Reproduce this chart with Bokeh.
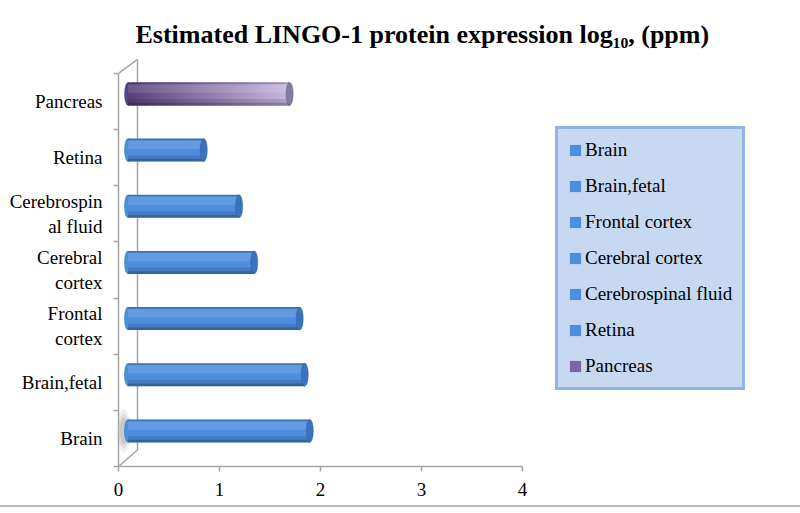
from bokeh.plotting import figure
from bokeh.models import Range1d, FixedTicker, ColumnDataSource, Legend, LegendItem
from bokeh.transform import dodge
from bokeh.embed import file_html
from bokeh.resources import INLINE

# ---------------- data ----------------
categories = ["Brain", "Brain,fetal", "Frontal cortex", "Cerebral cortex",
              "Cerebrospinal fluid", "Retina", "Pancreas"]
axis_labels = ["Brain", "Brain,fetal", "Frontal\ncortex", "Cerebral\ncortex",
               "Cerebrospin\nal fluid", "Retina", "Pancreas"]
values = [1.80, 1.75, 1.70, 1.25, 1.10, 0.75, 1.60]
x_ticks = [0, 1, 2, 3, 4]
title_text = "Estimated LINGO-1 protein expression log\u2081\u2080, (ppm)"

# ---------------- style ----------------
FONT = "Liberation Serif"
DX = 0.094      # half depth of 3D box (x units)
DY = 0.134      # half depth of 3D box (y units)
BAR_H = 0.41
CAP_W = 0.07
GRAY = "#a6a6a6"

BLUE = "#4d8ede"
BLUE_CAP = "#3b72be"
PURPLE_L = (0x58, 0x40, 0x7a)
PURPLE_R = (0xc8, 0xb8, 0xe0)

pos = [i + 0.5 for i in range(len(categories))]
base_colors = [BLUE] * 6 + ["#7d66a3"]
cap_colors = [BLUE_CAP] * 6 + ["#877aa0"]
left_colors = [BLUE] * 6 + ["#5a4180"]

src = ColumnDataSource(dict(cat=categories, pos=pos, value=values,
                            color=base_colors, cap=cap_colors, lcol=left_colors))

p = figure(frame_width=404, frame_height=410,
           min_border_left=118, min_border_top=56, min_border_right=0, min_border_bottom=39,
           x_range=Range1d(0, 4), y_range=Range1d(0, 7.3),
           output_backend="svg", toolbar_location=None,
           title=title_text)
p.styles = {"outline": "2px solid #b8b8b8"}

p.title.align = "left"
p.title.offset = 17
p.title.standoff = 15
p.title.text_font = FONT
p.title.text_font_size = "26px"
p.title.text_font_style = "bold"
p.title.text_color = "#000000"

p.xgrid.visible = False
p.ygrid.visible = False
p.outline_line_color = None
p.background_fill_color = "white"
p.border_fill_color = "white"

# 3D wall lines
p.line(x=[2 * DX, 2 * DX], y=[2.2 * DY, 7 + 1.85 * DY], line_color=GRAY, line_width=1.5)
p.line(x=[0, 2 * DX], y=[0, 2.2 * DY], line_color=GRAY, line_width=1.5)
p.line(x=[0, 2 * DX], y=[7, 7 + 1.85 * DY], line_color=GRAY, line_width=1.5)

# soft shadow at the base of the first bar
for w, h, a in [(0.14, 0.78, 0.08), (0.11, 0.62, 0.11), (0.08, 0.48, 0.15)]:
    p.ellipse(x=DX * 0.55, y=pos[0] + DY, width=w, height=h,
              fill_color="#505050", fill_alpha=a, line_color=None)

# left end caps (rounded start)
p.ellipse(x=DX, y=dodge("pos", DY), width=CAP_W, height=BAR_H, source=src,
          fill_color="lcol", line_color="#2e5f9e", line_alpha=0.5, line_width=0.8)

# cylinder bodies
base = p.hbar(y=dodge("pos", DY), left=DX, right=dodge("value", DX), height=BAR_H,
              source=src, fill_color="color", line_color=None)

# horizontal gradient for the pancreas bar
N = 40
pv = values[6]
seg_left, seg_right, seg_col, seg_y = [], [], [], []
for k in range(N):
    t = (k + 0.5) / N
    c = tuple(int(round(PURPLE_L[j] + (PURPLE_R[j] - PURPLE_L[j]) * t)) for j in range(3))
    seg_left.append(DX + pv * k / N)
    seg_right.append(min(DX + pv * (k + 1) / N + 0.02, DX + pv))
    seg_col.append("#%02x%02x%02x" % c)
    seg_y.append(pos[6] + DY)
p.hbar(y=seg_y, left=seg_left, right=seg_right, height=BAR_H, fill_color=seg_col, line_color=None)

# vertical shading strips (cylinder look)
strips = [(0.00, 0.08, "black", 0.18), (0.08, 0.45, "white", 0.12),
          (0.72, 0.88, "black", 0.12), (0.88, 1.00, "black", 0.30)]
for t, b, c, a in strips:
    off = DY + BAR_H * (0.5 - (t + b) / 2)
    p.hbar(y=dodge("pos", off), left=DX, right=dodge("value", DX), height=BAR_H * (b - t),
           source=src, fill_color=c, fill_alpha=a, line_color=None)

# right end caps
p.ellipse(x=dodge("value", DX), y=dodge("pos", DY), width=CAP_W, height=BAR_H, source=src,
          fill_color="cap", line_color="#2e5f9e", line_alpha=0.6, line_width=0.8)

# axes
xa = p.xaxis[0]
xa.ticker = FixedTicker(ticks=x_ticks, minor_ticks=[])
xa.axis_line_color = GRAY
xa.axis_line_width = 1.5
xa.major_tick_line_color = GRAY
xa.major_tick_line_width = 1.5
xa.major_tick_out = 5
xa.major_tick_in = 0
xa.major_label_text_font = FONT
xa.major_label_text_font_size = "19px"
xa.major_label_text_color = "#000000"
xa.major_label_standoff = 11

ya = p.yaxis[0]
ya.ticker = FixedTicker(ticks=pos, minor_ticks=list(range(len(categories) + 1)))
ya.bounds = (0, 7)
ya.major_label_overrides = {pv_: lab for pv_, lab in zip(pos, axis_labels)}
ya.axis_line_color = GRAY
ya.axis_line_width = 1.5
ya.major_tick_line_color = None
ya.major_tick_out = 5
ya.minor_tick_line_color = GRAY
ya.minor_tick_line_width = 1.5
ya.minor_tick_out = 5
ya.minor_tick_in = 0
ya.major_label_text_font = FONT
ya.major_label_text_font_size = "19px"
ya.major_label_text_color = "#000000"
ya.major_label_standoff = 11

# legend
items = [LegendItem(label=c, renderers=[base], index=i) for i, c in enumerate(categories)]
legend = Legend(items=items, location=(33, 76))
legend.label_text_font = FONT
legend.label_text_font_size = "19px"
legend.label_text_color = "#000000"
legend.glyph_width = 14
legend.glyph_height = 14
legend.label_standoff = 3
legend.label_height = 22
legend.spacing = 14
legend.padding = 10
legend.margin = 0
legend.border_line_color = "#5a8fd6"
legend.border_line_width = 3
legend.background_fill_color = "#c6d9f0"
legend.background_fill_alpha = 1.0
p.add_layout(legend, "right")
p.width = 792
p.height = 505

open("out.html", "w").write(file_html(p, INLINE))
